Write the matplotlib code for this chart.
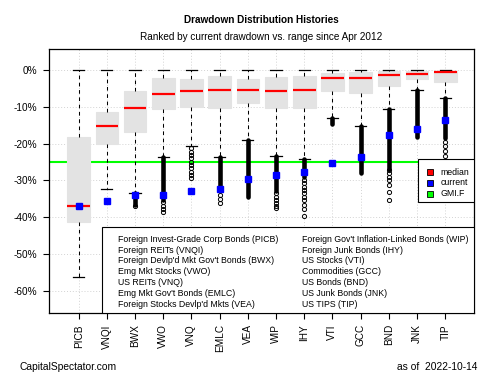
import matplotlib
matplotlib.use("Agg")
import matplotlib.pyplot as plt
from matplotlib.patches import Rectangle
import numpy as np

plt.rcParams['font.family'] = ['Liberation Sans', 'DejaVu Sans']

# values, in percent
tickers = ['PICB', 'VNQI', 'BWX', 'VWO', 'VNQ', 'EMLC', 'VEA',
           'WIP', 'IHY', 'VTI', 'GCC', 'BND', 'JNK', 'TIP']
names = ['Foreign Invest-Grade Corp Bonds (PICB)', 'Foreign REITs (VNQI)',
         "Foreign Devlp'd Mkt Gov't Bonds (BWX)", 'Emg Mkt Stocks (VWO)',
         'US REITs (VNQ)', "Emg Mkt Gov't Bonds (EMLC)",
         "Foreign Stocks Devlp'd Mkts (VEA)",
         "Foreign Gov't Inflation-Linked Bonds (WIP)", 'Foreign Junk Bonds (IHY)',
         'US Stocks (VTI)', 'Commodities (GCC)', 'US Bonds (BND)',
         'US Junk Bonds (JNK)', 'US TIPS (TIP)']
box_top = [-18.1, -11.3, -5.6, -2.2, -2.4, -1.6, -2.4, -1.9, -1.5, -0.8, -0.4, -0.1, -0.2, -0.1]
medians = [-36.9, -15.3, -10.2, -6.4, -5.7, -5.5, -5.5, -5.6, -5.3, -2.1, -2.0, -1.3, -0.9, -0.6]
box_bot = [-41.2, -20.1, -16.9, -10.6, -9.9, -10.2, -8.8, -10.4, -10.4, -5.6, -6.3, -4.2, -2.4, -3.1]
whisk_lo = [-56.4, -32.4, -33.5, -23.5, -20.6, -23.5, -19.0, -23.4, -24.3, -12.9, -15.1, -10.5, -5.4, -7.6]
whisk_hi = [0.0] * 14
current = [-36.9, -35.6, -34.0, -34.0, -33.0, -32.3, -29.6, -28.6, -27.7, -25.3, -23.6, -17.7, -16.0, -13.6]
gmi_f = -25.0

# packed outlier runs (top, bottom) and single outliers
dense_out = {'BWX': (-33.5, -36.6), 'VWO': (-23.5, -35.3), 'EMLC': (-23.5, -32.6),
             'VEA': (-19.0, -34.4), 'WIP': (-23.4, -33.0), 'IHY': (-24.3, -29.0),
             'VTI': (-12.9, -14.6), 'GCC': (-15.1, -28.1), 'BND': (-10.5, -26.8),
             'JNK': (-5.4, -18.1), 'TIP': (-7.6, -18.5)}
single_out = {'BWX': [-36.9],
              'VWO': [-35.8, -36.9, -37.8, -38.7],
              'VNQ': [-21.3, -22.2, -23.1, -24.0, -24.9, -25.8, -26.7, -27.6, -28.5, -29.3],
              'EMLC': [-34.0, -35.1, -36.1],
              'WIP': [-33.3, -34.4, -35.3, -36.1, -37.0, -37.6],
              'IHY': [-29.9, -30.8, -31.7, -32.6, -33.5, -34.4, -35.3, -36.7, -37.8, -39.7],
              'BND': [-27.2, -28.1, -29.0, -29.9, -31.3, -33.1, -35.3],
              'TIP': [-19.5, -20.6, -22.0, -23.4]}

pos = np.arange(1, len(tickers) + 1)

fig = plt.figure(figsize=(5, 3.75), dpi=100)
ax = fig.add_axes([0.0986, 0.1645, 0.85, 0.704])

# grid and benchmark line sit under the boxes
for y in range(0, -70, -10):
    ax.axhline(y / 100, color='#d3d3d3', lw=0.7, ls=(0, (1, 2)), zorder=0)
for x in pos:
    ax.axvline(x, color='#d3d3d3', lw=0.7, ls=(0, (1, 2)), zorder=0)
ax.axhline(gmi_f / 100, color='#00ff00', lw=1.5, zorder=1)

stats = []
for i, t in enumerate(tickers):
    stats.append(dict(med=medians[i] / 100, q1=box_bot[i] / 100, q3=box_top[i] / 100,
                      whislo=whisk_lo[i] / 100, whishi=whisk_hi[i] / 100,
                      fliers=np.array(single_out.get(t, [])) / 100))

ax.bxp(stats, positions=pos, widths=0.8, capwidths=0.4, patch_artist=True,
       manage_ticks=False, zorder=2,
       boxprops=dict(facecolor='#e3e3e3', edgecolor='#e3e3e3', lw=0.8),
       medianprops=dict(color='red', lw=1.6),
       whiskerprops=dict(color='black', lw=0.75, ls=(0, (3.5, 3.5))),
       capprops=dict(color='black', lw=0.9),
       flierprops=dict(marker='o', mfc='none', mec='black', ms=3, mew=0.7))

for i, t in enumerate(tickers):
    if t in dense_out:
        top, bot = dense_out[t]
        ax.vlines(pos[i], bot / 100, top / 100, color='black', lw=3.3,
                  capstyle='round', zorder=3)

ax.plot(pos, np.array(current) / 100, ls='none', marker='s', ms=4.2,
        color='#0000ff', zorder=4)

ax.set_xlim(-0.04, 15.03)
ax.set_ylim(-0.662, 0.057)
ax.set_xticks(pos)
ax.set_xticklabels(tickers, rotation=90, fontsize=7.2)
yt = np.arange(0, -70, -10)
ax.set_yticks(yt / 100)
ax.set_yticklabels([f'{v}%' for v in yt], fontsize=7.2)
ax.tick_params(axis='both', length=4.3, width=0.8, color='black')
ax.tick_params(axis='y', pad=4.5)
ax.tick_params(axis='x', pad=3.5)
for s in ax.spines.values():
    s.set_linewidth(0.9)

# fund name box at the bottom
ax.add_patch(Rectangle((0.1233, 0.0), 0.8767, 0.328, transform=ax.transAxes,
                       fc='white', ec='black', lw=0.8, zorder=5))
half = 7
for i, n in enumerate(names):
    col, row = divmod(i, half)
    ax.text(0.161 if col == 0 else 0.594, 0.2803 - row * 0.041, n,
            transform=ax.transAxes, fontsize=6.3, va='center', ha='left', zorder=6)

# marker key
ax.add_patch(Rectangle((0.868, 0.4205), 0.132, 0.1625, transform=ax.transAxes,
                       fc='white', ec='black', lw=0.8, zorder=5))
key_labels = ['median', 'current', 'GMI.F']
key_colors = ['#ff0000', '#0000ff', '#00ff00']
for i, (lab, c) in enumerate(zip(key_labels, key_colors)):
    yk = 0.535 - i * 0.041
    ax.plot([0.8957], [yk], marker='s', ms=4.2, mfc=c, mec='black', mew=0.6,
            transform=ax.transAxes, zorder=6, clip_on=False)
    ax.text(0.921, yk, lab, transform=ax.transAxes, fontsize=6.3, va='center', zorder=6)

fig.text(0.522, 1 - 20 / 375, 'Drawdown Distribution Histories', ha='center', va='center',
         fontsize=7.2, fontweight='bold')
fig.text(0.522, 1 - 37.3 / 375, 'Ranked by current drawdown vs. range since Apr 2012',
         ha='center', va='center', fontsize=7.2)
fig.text(0.04, 1 - 367 / 375, 'CapitalSpectator.com', ha='left', va='center', fontsize=7.4)
fig.text(0.954, 1 - 367 / 375, 'as of  2022-10-14', ha='right', va='center', fontsize=7.4)

fig.savefig('out.png', dpi=100)
